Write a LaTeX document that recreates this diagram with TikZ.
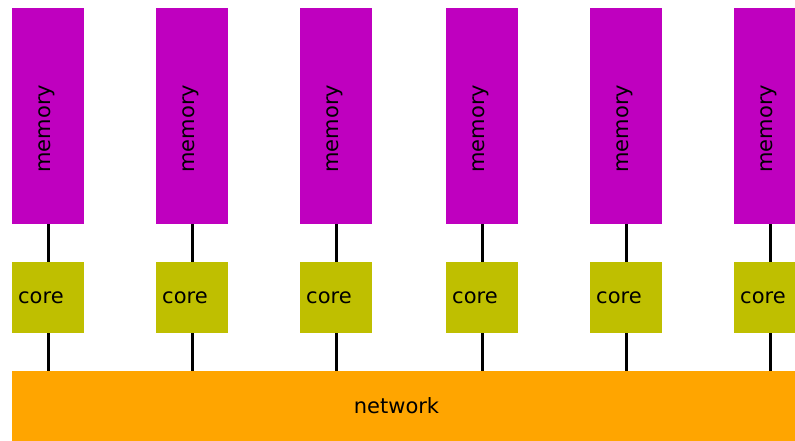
\documentclass[tikz,border=0pt]{standalone}
\usepackage{fontspec}
\setmainfont{DejaVu Sans}
\definecolor{memcol}{RGB}{191,0,191}
\definecolor{corecol}{RGB}{191,191,0}
\definecolor{netcol}{RGB}{255,165,0}
\begin{document}
\begin{tikzpicture}[x=1pt,y=-1pt,
  membox/.style={fill=memcol,draw=none,inner sep=0pt,minimum width=72pt,minimum height=216pt,anchor=north west},
  corebox/.style={fill=corecol,draw=none,inner sep=0pt,minimum width=72pt,minimum height=71pt,anchor=north west},
  netbox/.style={fill=netcol,draw=none,inner sep=0pt,minimum width=900pt,minimum height=80pt,anchor=north west},
  lbl/.style={inner sep=0pt,font=\fontsize{21}{25}\selectfont,text=black},
  link/.style={line width=3pt,black}]
\useasboundingbox (0,0) rectangle (795,440);
\clip (0,0) rectangle (795,440);
\node[netbox] (net) at (12,371) {};
\node[lbl] (netlbl) at (396.5,405.5) {network};
\foreach \i/\x in {1/12,2/156,3/300,4/446,5/590,6/734}{
  \node[membox] (mem\i) at (\x,8) {};
  \node[corebox] (core\i) at (\x,262) {};
  \node[lbl,rotate=90] (meml\i) at ([shift={(-1,12.5)}]mem\i.center) {memory};
  \node[lbl,anchor=west] (corel\i) at ([shift={(6,0.5)}]core\i.west) {core};
  \draw[link] (mem\i.south) -- (core\i.north);
  \draw[link] (core\i.south) -- (core\i.south |- net.north);
}
\end{tikzpicture}
\end{document}
